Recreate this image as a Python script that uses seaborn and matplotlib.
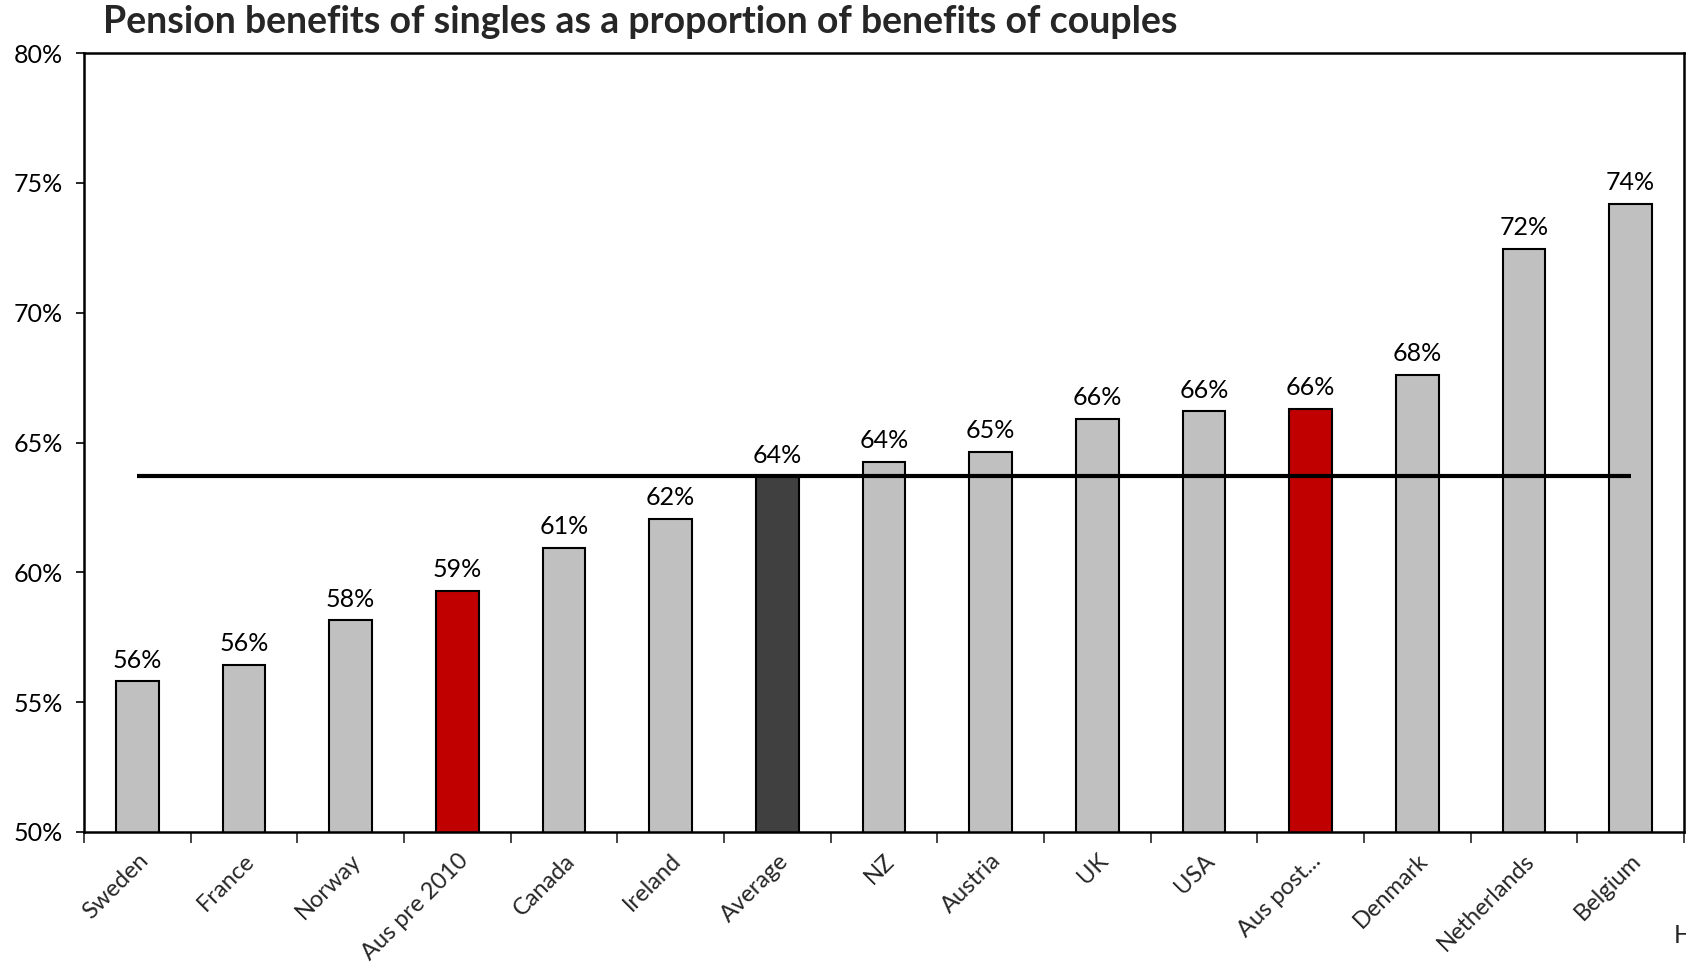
import matplotlib
matplotlib.use("Agg")
import matplotlib.pyplot as plt
import matplotlib.ticker as mticker
import seaborn as sns
import pandas as pd

# Single pension as a share of couple pension (%)
countries = ["Sweden", "France", "Norway", "Aus pre 2010", "Canada", "Ireland",
             "Average", "NZ", "Austria", "UK", "USA", "Aus post...", "Denmark",
             "Netherlands", "Belgium"]
values = [55.8, 56.45, 58.15, 59.3, 60.95, 62.05, 63.7, 64.25, 64.65,
          65.9, 66.2, 66.3, 67.6, 72.45, 74.2]
average_value = 63.7
highlight_red = ["Aus pre 2010", "Aus post..."]
highlight_dark = ["Average"]
y_ticks = [50, 55, 60, 65, 70, 75, 80]

sns.set_theme(style="white")
plt.rcParams["font.family"] = ["Lato", "DejaVu Sans"]

df = pd.DataFrame({"country": countries, "value": values})
palette = {c: ("#C00000" if c in highlight_red else
               "#404040" if c in highlight_dark else "#C0C0C0")
           for c in countries}

fig = plt.figure(figsize=(16.86, 9.68), dpi=100)
ax = fig.add_axes([0.0498, 0.1405, 0.949, 0.8047])

sns.barplot(data=df, x="country", y="value", hue="country", palette=palette,
            order=countries, hue_order=countries, legend=False, width=0.4,
            edgecolor="black", linewidth=1.5, saturation=1, ax=ax)

# Average reference line across all categories
ax.hlines(average_value, 0, len(countries) - 1, color="black", lw=3, zorder=5)

# Value labels above bars
for i, v in enumerate(values):
    ax.annotate(f"{v:.0f}%", (i, v), xytext=(0, 7), textcoords="offset points",
                ha="center", va="bottom", fontsize=18, color="black")

ax.set_ylim(50, 80)
ax.set_xlim(-0.5, len(countries) - 0.5)
ax.set_yticks(y_ticks)
ax.yaxis.set_major_formatter(mticker.FuncFormatter(lambda x, _: f"{x:.0f}%"))
ax.tick_params(axis="y", which="major", direction="out", length=6, width=1.2,
               left=True, labelsize=18, pad=9, colors="black")

# Category labels centred on bars, tick marks between categories
ax.set_xticks(range(len(countries)))
ax.set_xticklabels(countries, rotation=45, ha="right", rotation_mode="anchor",
                   fontsize=17)
ax.tick_params(axis="x", which="major", length=0, pad=13)
ax.set_xticks([i - 0.5 for i in range(len(countries) + 1)], minor=True)
ax.tick_params(axis="x", which="minor", direction="out", length=8, width=1.2,
               bottom=True)
ax.set_xlabel("")
ax.set_ylabel("")

for side in ["left", "right", "top", "bottom"]:
    ax.spines[side].set_visible(True)
    ax.spines[side].set_color("black")
    ax.spines[side].set_linewidth(1.8)

fig.text(0.061, 0.977, "Pension benefits of singles as a proportion of benefits of couples",
         fontsize=27, fontweight="bold", ha="left", va="center")
fig.text(0.993, 0.034, "H", fontsize=18, ha="left", va="center")

fig.savefig("out.png", dpi=100)
